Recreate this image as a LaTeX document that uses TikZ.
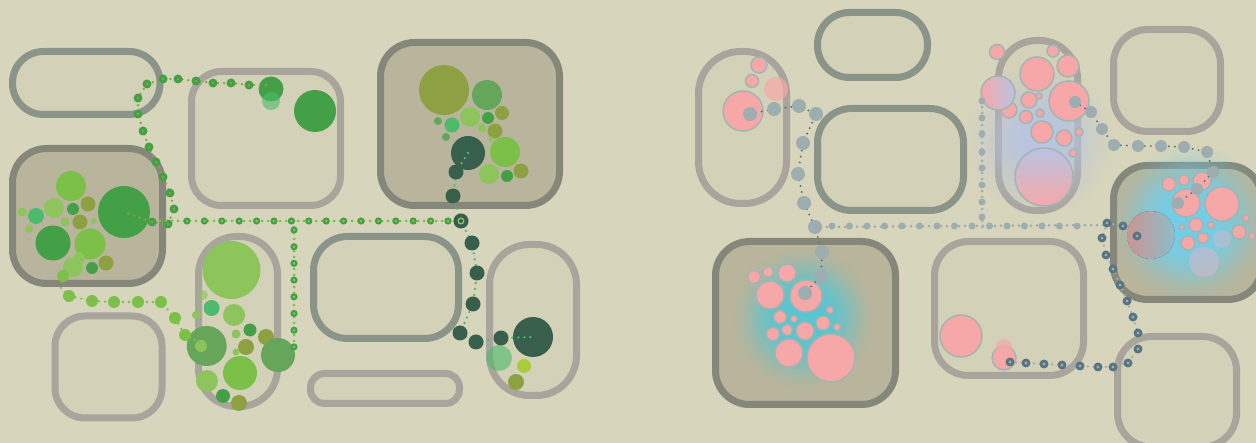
\documentclass[tikz,border=0pt]{standalone}
\usetikzlibrary{fadings}

\definecolor{bg}{HTML}{D7D5BB}
\definecolor{boxin}{HTML}{D3D1B7}
\definecolor{panelin}{HTML}{B8B59C}
\definecolor{greyline}{HTML}{A9A59D}
\definecolor{greenline}{HTML}{8A9488}
\definecolor{darkline}{HTML}{85877A}
\definecolor{dkg}{HTML}{43A047}
\definecolor{ltg}{HTML}{7CC04A}
\definecolor{lg2}{HTML}{8DC55C}
\definecolor{tlg}{HTML}{4DBB6B}
\definecolor{olv}{HTML}{8DA143}
\definecolor{mdg}{HTML}{66A65A}
\definecolor{dtl}{HTML}{375F4B}
\definecolor{ylg}{HTML}{A9CC3D}
\definecolor{pinkb}{HTML}{F6A8A8}
\definecolor{rim}{HTML}{A5B4B2}
\definecolor{gb}{HTML}{9DADB0}
\definecolor{slate}{HTML}{587482}
\definecolor{glowc}{HTML}{58C6D2}
\definecolor{glowb}{HTML}{72CFE8}
\definecolor{glowl}{HTML}{B8C4E2}

\tikzfading[name=glowfade, inner color=transparent!0, outer color=transparent!100]

\begin{document}
\begin{tikzpicture}[
    x=1pt, y=-1pt,
    roundbox/.style={line width=7pt, fill=boxin, rounded corners=#1},
    panel/.style={fill=panelin, draw=darkline},
    bub/.style={fill=#1},
    pinkbub/.style={fill=pinkb, draw=rim, line width=1.5pt},
    trail/.style={line width=#1, line cap=round, dash pattern=on 0pt off 6pt}
]

\fill[bg] (0,0) rectangle (1256,443);
\useasboundingbox (0,0) rectangle (1256,443);

% frames
\foreach \xa/\ya/\xb/\yb/\r/\s in {
    12.5/51.5/160/114.5/31pt/greenline, 191.5/71.5/340.5/205.5/30pt/greyline,
    55/316/162/418/30pt/greyline, 198.5/236.5/277.5/406.5/38pt/greyline,
    313.5/236.5/458.5/338.5/34pt/greenline, 310.5/373.5/459.5/403.5/14pt/greyline,
    489.5/244.5/576.5/395.5/40pt/greyline, 698.5/51.5/786.5/203.5/42pt/greyline,
    817.5/12.5/927.5/77.5/32pt/greenline, 817.5/108.5/963.5/210.5/34pt/greenline,
    998.5/40.5/1077.5/210.5/38pt/greyline, 1113.5/29.5/1220.5/131.5/34pt/greyline,
    934.5/241.5/1083.5/375.5/34pt/greyline, 1117.5/336.5/1236.5/447/34pt/greyline}
  \draw[roundbox=\r, draw=\s] (\xa,\ya) rectangle (\xb,\yb);
\foreach \xa/\ya/\xb/\yb in {12.5/148.5/162.5/283.5, 380.5/42.5/559.5/205.5,
    715.5/241.5/895.5/404.5, 1113.5/165.5/1262/299.5}
  \draw[roundbox=34pt, panel] (\xa,\ya) rectangle (\xb,\yb);

% glows
\foreach \r in {70,58,46}
  \fill[glowc, path fading=glowfade] (803,318) circle (\r);
\foreach \r in {78,66,52}
  \fill[glowb, path fading=glowfade] (1190,222) circle (\r);
\foreach \r in {75,50}
  \fill[glowl, path fading=glowfade] (1040,140) circle (\r);

% green bubbles
\foreach \x/\y/\r/\c in {
    124/212/26/dkg, 71/186/15/ltg, 54/208/10/lg2, 36/216/8/tlg, 22/212/4.5/lg2,
    29/229/4/lg2, 53/243/17.5/dkg, 73/209/6/dkg, 88/204/7.5/olv, 80/222/7.5/olv,
    65/222/4.5/lg2, 94/221/3/lg2, 90/244/15.5/ltg, 73/267/10/lg2, 92/268/6/dkg,
    106/263/7.5/olv, 79/258/6/lg2,
    271/89/12.5/dkg, 315/111/21/dkg,
    444/90/25/olv, 487/95/15/mdg, 470/117/10/lg2, 488/118/6/dkg, 502/113/7/olv,
    452/125/7.5/tlg, 438/121/4/mdg, 482/128/4/lg2, 495/131/7.5/olv, 446/137/4/mdg,
    491/139/2.5/lg2, 468/153/17/dtl, 505/152/15/ltg, 489/174/10/lg2, 507/176/6/dkg,
    521/171/7.5/olv,
    231.5/270/29/lg2, 211.6/308/8/tlg, 234/315/11/lg2, 196/315/4/lg2, 250/330/6.5/dkg,
    236/334/4.5/lg2, 266/337/8/olv, 206.7/346/20/mdg, 201/346/6/lg2, 246/347/8/olv,
    278/355/17/mdg, 236/352/3.5/lg2, 240/373/17/ltg, 207/381/11/lg2, 223/396/7/dkg,
    239/403/8/olv,
    533/337/20/dtl, 524/366/7/ylg, 516/382/8/olv}
  \fill[bub=\c] (\x,\y) circle (\r);
\fill[tlg, opacity=.6] (271,101) circle (9);
\fill[lg2, opacity=.6] (203,295) circle (5);
\fill[tlg, opacity=.6] (499,358) circle (13);

% pink bubbles
\foreach \x/\y/\r in {
    743/111/20, 759/65/8, 752/81/6.5,
    754/277/6.5, 768/272/5.5, 787/273/9, 770/295/14, 806/296/16, 780/317/6.5,
    794/319/3.5, 830/310/3.5, 823/323/7, 837/327/3.5, 805/331/9, 787/330/5.5,
    773/334/6.5, 789/353/14, 831/358/24,
    961/336/21, 1004/358/12,
    997/52/7.5, 1053/51/6, 1068/66/11, 1037/74/17, 1069/101/20, 1029/100/8,
    1039/96/3, 1009/110/8, 1026/117/6.5, 1040/113/4, 1042/132/11, 1064/138/8,
    1079/132/4, 1073/153/4,
    1169/184/7, 1184/180/5.5, 1202/181/9, 1186/203/14, 1222/204/17, 1196/225/7,
    1211/225/3.5, 1182/227/2.5, 1246/218/3.5, 1239/232/7, 1252/236/3.5,
    1188/243/7, 1203/238/5.5}
  \draw[pinkbub] (\x,\y) circle (\r);
\fill[pinkb, opacity=.7] (776,89) circle (12);
\fill[pinkb, opacity=.7] (1004,347) circle (8);
\draw[pinkbub, left color=pinkb, right color=glowl] (998,93) circle (17);
\draw[pinkbub, top color=glowl, bottom color=pinkb] (1044,177) circle (29);
\fill[left color=pinkb!90!white, right color=glowb!60!white, opacity=.8] (1151,235) circle (24);
\fill[glowl!60!pinkb, opacity=.6] (1204,262) circle (15);
\fill[glowl!60!pinkb, opacity=.5] (1222,239) circle (9);

% green trails
\draw[trail=2.6pt, olv] (266,85) -- (249,85) -- (231,83) -- (213,83) -- (196,81)
  -- (178,79) -- (163,79) -- (147,84) -- (138,98) -- (138,114) -- (143,131)
  -- (149,147) -- (156,162) -- (163,177) -- (170,193) -- (174,209) -- (168,224)
  -- (152,222) -- (124,212);
\foreach \x/\y in {249/85, 231/83, 213/83, 196/81, 178/79, 163/79, 147/84, 138/98,
    138/114, 143/131, 149/147, 156/162, 163/177, 170/193, 174/209, 168/224, 152/222}
  {\fill[dkg] (\x,\y) circle (4.5); \fill[olv] (\x,\y) circle (1.4);}
\draw[trail=3pt, ltg] (160,221) -- (461,221);
\draw[trail=3pt, ltg] (294,221) -- (294,350);
\foreach \x in {187,204.4,...,449}
  {\fill[dkg] (\x,221) circle (3.6); \fill[lg2] (\x,221) circle (1.4);}
\foreach \y in {230,246.7,...,348}
  {\fill[dkg] (294,\y) circle (3.6); \fill[lg2] (294,\y) circle (1.4);}
\draw[trail=2.6pt, ltg] (63,276) -- (61,288) -- (69,296) -- (92,301) -- (114,302)
  -- (138,302) -- (161,302) -- (175,318) -- (185,335) -- (206,346);
\foreach \x/\y in {63/276, 69/296, 92/301, 114/302, 138/302, 161/302, 175/318, 185/335}
  \fill[ltg] (\x,\y) circle (6);
\draw[trail=2.6pt, tlg] (468,153) -- (456,172) -- (453,196) -- (461,221) -- (472,243)
  -- (477,273) -- (473,304) -- (460,333) -- (476,342) -- (501,338) -- (533,337);
\foreach \x/\y in {456/172, 453/196, 461/221, 472/243, 477/273, 473/304, 460/333,
    476/342, 501/338}
  \fill[dtl] (\x,\y) circle (7.5);
\fill[lg2] (461,221) circle (3.5);
\fill[dtl] (461,221) circle (2);

% grey trails
\draw[trail=2.2pt, slate] (750,114) -- (774,109) -- (799,106) -- (816,114) -- (803,143)
  -- (798,174) -- (804,203) -- (815,227) -- (822,252) -- (821,276) -- (805,293);
\foreach \x/\y in {774/109, 799/106, 816/114, 803/143, 798/174, 804/203, 815/227,
    822/252, 821/276}
  \fill[gb] (\x,\y) circle (7);
\fill[gb] (750,114) circle (7);
\fill[gb] (805,293) circle (7);
\draw[trail=3pt, gb] (815,227) -- (1107,225);
\draw[trail=3pt, gb] (982,227) -- (982,100);
\foreach \x in {832,849.5,...,1092}
  \fill[gb] (\x,226) circle (3.5);
\foreach \y in {101,118,134,152,168,185,202,217}
  \fill[gb] (982,\y) circle (3.5);
\draw[trail=2.2pt, slate] (1075,102) -- (1091,112) -- (1102,129) -- (1114,145)
  -- (1138,146) -- (1161,146) -- (1184,147) -- (1207,152) -- (1213,172) -- (1197,189)
  -- (1178,203);
\foreach \x/\y in {1091/112, 1102/129, 1114/145, 1138/146, 1161/146, 1184/147,
    1207/152, 1213/172, 1197/189}
  \fill[gb] (\x,\y) circle (6);
\fill[gb] (1075,102) circle (6);
\fill[gb] (1178,203) circle (6);
\draw[trail=2.6pt, gb] (1010,362) -- (1026,363) -- (1044,364) -- (1062,365) -- (1080,366)
  -- (1098,367) -- (1113,367) -- (1128,363) -- (1138,349) -- (1138,333) -- (1133,317)
  -- (1127,301) -- (1120,285) -- (1113,269) -- (1106,255) -- (1102,238) -- (1107,223)
  -- (1123,226) -- (1137,236);
\foreach \x/\y in {1010/362, 1026/363, 1044/364, 1062/365, 1080/366, 1098/367,
    1113/367, 1128/363, 1138/349, 1138/333, 1133/317, 1127/301, 1120/285, 1113/269,
    1106/255, 1102/238, 1107/223, 1123/226, 1137/236}
  {\fill[slate] (\x,\y) circle (4.5); \fill[gb] (\x,\y) circle (1.6);}

\end{tikzpicture}
\end{document}
